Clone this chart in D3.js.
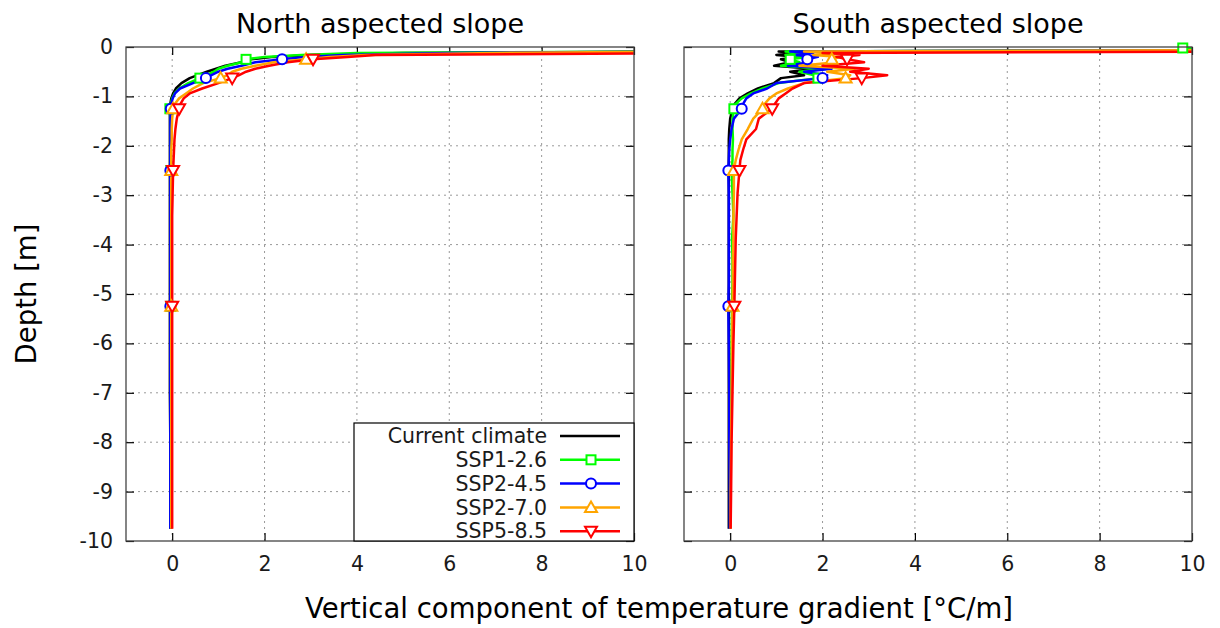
<!DOCTYPE html>
<html><head><meta charset="utf-8">
<script src="https://cdn.jsdelivr.net/npm/d3@7"></script>
<style>body{margin:0;background:#fff}svg{display:block}text{font-family:"DejaVu Sans",sans-serif}</style>
</head><body><svg id="c" width="1220" height="628"></svg>
<script>
// ---- data ----
const depths = [-0.02,-0.06,-0.09,-0.12,-0.16,-0.20,-0.25,-0.31,-0.38,-0.44,-0.50,-0.57,-0.63,-0.73,-0.84,-0.94,-1.04,-1.15,-1.25,-1.45,-1.66,-1.87,-2.08,-2.29,-2.50,-2.96,-3.42,-3.88,-4.33,-4.79,-5.25,-6.0,-7.0,-8.0,-9.0,-9.75];
const seriesNames = ["Current climate","SSP1-2.6","SSP2-4.5","SSP2-7.0","SSP5-8.5"];
const seriesColors = ["#000000","#00ff00","#0000ff","#ffa500","#ff0000"];
const seriesMarkers = ["none","square","circle","triangleUp","triangleDown"];
const panelTitles = ["North aspected slope","South aspected slope"];
const xTicks = [0,2,4,6,8,10];
const yTicks = [0,-1,-2,-3,-4,-5,-6,-7,-8,-9,-10];
const markerEvery = 6;

const northCurrent = [20,15,12,5,3.0,2.2,1.7,1.5,1.15,0.95,0.75,0.55,0.38,0.2,0.08,0.02,-0.02,-0.04,-0.05,-0.05,-0.05,-0.05,-0.05,-0.05,-0.05,-0.05,-0.05,-0.05,-0.05,-0.05,-0.05,-0.05,-0.05,-0.04,-0.04,-0.04];
const northSSP126 = [20,15,12,4,2.8,2.0,1.6,1.5,1.2,1.0,0.9,0.75,0.6,0.35,0.15,0.05,0.0,-0.03,-0.05,-0.04,-0.04,-0.04,-0.04,-0.04,-0.03,-0.03,-0.03,-0.03,-0.03,-0.03,-0.03,-0.03,-0.03,-0.03,-0.03,-0.03];
const northSSP245 = [20,15,12,6,3.7,2.9,2.38,1.8,1.5,1.2,1.0,0.85,0.73,0.45,0.17,0.06,0.01,-0.02,-0.03,-0.04,-0.04,-0.04,-0.04,-0.04,-0.04,-0.04,-0.04,-0.04,-0.04,-0.04,-0.04,-0.04,-0.04,-0.04,-0.04,-0.04];
const northSSP370 = [20,15,12,7,4.2,3.4,2.9,2.2,1.8,1.5,1.3,1.2,1.05,0.67,0.45,0.3,0.15,0.06,0.02,0.0,-0.01,-0.01,-0.02,-0.02,-0.02,-0.02,-0.02,-0.02,-0.02,-0.02,-0.02,-0.02,-0.02,-0.02,-0.02,-0.02];
const northSSP585 = [25,22,18,12,4.4,3.8,3.05,2.5,2.1,1.8,1.6,1.45,1.3,1.0,0.65,0.38,0.25,0.18,0.15,0.1,0.07,0.05,0.04,0.03,0.02,0.01,0.0,0.0,0.0,0.0,0.0,0.0,0.0,0.0,0.0,0.0];

const southCurrent = [12,12,1.05,1.4,1.0,1.5,1.1,1.3,0.95,1.8,1.3,1.6,1.1,0.95,0.6,0.38,0.2,0.1,0.05,0.0,-0.02,-0.03,-0.03,-0.03,-0.03,-0.03,-0.03,-0.03,-0.03,-0.03,-0.03,-0.03,-0.03,-0.03,-0.03,-0.03];
const southSSP126 = [9.8,12,1.2,1.6,1.2,1.7,1.3,1.5,1.1,2.0,1.5,1.8,1.9,1.05,0.7,0.45,0.25,0.12,0.08,0.05,0.05,0.06,0.05,0.05,0.03,0.05,0.07,0.04,0.05,0.05,0.04,0.03,0.02,0.01,0.0,0.0];
const southSSP245 = [12,12,1.3,1.8,1.4,1.9,1.67,1.7,1.25,2.2,1.6,2.1,2.0,1.0,0.8,0.5,0.35,0.28,0.25,0.08,0.03,0.0,-0.02,-0.03,-0.04,-0.03,-0.03,-0.03,-0.03,-0.03,-0.04,-0.03,-0.02,-0.02,-0.01,-0.01];
const southSSP370 = [12,12,1.6,2.3,1.8,2.4,2.2,2.3,1.5,2.7,2.1,2.6,2.5,1.6,1.25,1.0,0.85,0.75,0.7,0.5,0.38,0.25,0.18,0.12,0.08,0.08,0.07,0.07,0.06,0.06,0.05,0.04,0.03,0.02,0.01,0.01];
const southSSP585 = [12,12,12,2.0,2.8,2.3,2.53,2.9,2.0,3.0,2.6,3.4,2.85,1.6,1.35,1.2,1.05,0.97,0.91,0.62,0.56,0.35,0.28,0.22,0.2,0.16,0.14,0.12,0.11,0.1,0.09,0.07,0.05,0.03,0.02,0.01];

const panelSeries = [
  [northCurrent,northSSP126,northSSP245,northSSP370,northSSP585],
  [southCurrent,southSSP126,southSSP245,southSSP370,southSSP585]
];

// ---- layout ----
const svg = d3.select("#c");
const W = 508, H = 494, topY = 47;
const lefts = [126, 684];
const x = d3.scaleLinear().domain([-1,10]).range([0,W]);
const y = d3.scaleLinear().domain([-10,0]).range([H,0]);
const tickFont = 20.5;

function drawMarker(g, type, cx, cy, color){
  if(type==="square"){
    g.append("rect").attr("x",cx-4.5).attr("y",cy-4.5).attr("width",9).attr("height",9)
      .attr("fill","#fff").attr("stroke",color).attr("stroke-width",2);
  } else if(type==="circle"){
    g.append("circle").attr("cx",cx).attr("cy",cy).attr("r",5)
      .attr("fill","#fff").attr("stroke",color).attr("stroke-width",2);
  } else if(type==="triangleUp"){
    g.append("path").attr("d",`M${cx},${cy-6}L${cx+6},${cy+4.5}L${cx-6},${cy+4.5}Z`)
      .attr("fill","#fff").attr("stroke",color).attr("stroke-width",2);
  } else if(type==="triangleDown"){
    g.append("path").attr("d",`M${cx},${cy+6}L${cx+6},${cy-4.5}L${cx-6},${cy-4.5}Z`)
      .attr("fill","#fff").attr("stroke",color).attr("stroke-width",2);
  }
}

panelSeries.forEach((series, p) => {
  const g = svg.append("g").attr("transform",`translate(${lefts[p]},${topY})`);
  const cid = "clip"+p;
  g.append("clipPath").attr("id",cid).append("rect").attr("width",W).attr("height",H);

  // grid
  const grid = g.append("g");
  [0,2,4,6,8].forEach(v => grid.append("line").attr("x1",x(v)).attr("x2",x(v)).attr("y1",0).attr("y2",H)
    .attr("stroke","#999").attr("stroke-width",1).attr("stroke-dasharray","2,4"));
  yTicks.filter(v=>v<0 && v>-10).forEach(v => grid.append("line").attr("x1",0).attr("x2",W).attr("y1",y(v)).attr("y2",y(v))
    .attr("stroke","#999").attr("stroke-width",1).attr("stroke-dasharray","2,4"));

  // axes
  const ax = d3.axisBottom(x).tickValues(xTicks).tickSizeInner(-8).tickSizeOuter(0).tickPadding(15).tickFormat(d=>String(d));
  const axB = g.append("g").attr("transform",`translate(0,${H})`).call(ax);
  const axT = g.append("g").call(d3.axisTop(x).tickValues(xTicks).tickSizeInner(-8).tickSizeOuter(0).tickFormat(""));
  const axL = g.append("g").call(d3.axisLeft(y).tickValues(yTicks).tickSizeInner(-8).tickSizeOuter(0).tickPadding(13)
     .tickFormat(p===0 ? (d=>String(d)) : ""));
  const axR = g.append("g").attr("transform",`translate(${W},0)`).call(d3.axisRight(y).tickValues(yTicks).tickSizeInner(-8).tickSizeOuter(0).tickFormat(""));
  [axB,axT,axL,axR].forEach(a => {
    a.select(".domain").remove();
    a.selectAll("line").attr("stroke","#000").attr("stroke-width",1.2);
    a.selectAll("text").attr("font-size",tickFont).attr("fill","#1a1a1a").attr("font-family","DejaVu Sans");
  });
  axB.selectAll("text").attr("dy","0.71em");

  // lines
  const line = d3.line().x(d=>x(d[0])).y(d=>y(d[1]));
  const lg = g.append("g").attr("clip-path",`url(#${cid})`);
  series.forEach((vals, s) => {
    const pts = vals.map((v,i)=>[v, depths[i]]);
    lg.append("path").attr("d",line(pts)).attr("fill","none")
      .attr("stroke",seriesColors[s]).attr("stroke-width",2.5).attr("stroke-linejoin","round");
  });
  const mg = g.append("g");
  series.forEach((vals, s) => {
    vals.forEach((v,i) => {
      if(i % markerEvery === 0 && v <= 10 && v >= -1) drawMarker(mg, seriesMarkers[s], x(v), y(depths[i]), seriesColors[s]);
    });
  });

  // frame
  g.append("rect").attr("width",W).attr("height",H).attr("fill","none").attr("stroke","#444").attr("stroke-width",1.3);

  // title
  svg.append("text").attr("x",lefts[p]+W/2).attr("y",33).attr("text-anchor","middle")
    .attr("font-size",27).attr("fill","#000").text(panelTitles[p]);

  // legend
  if(p===0){
    const L = g.append("g");
    const lx0 = 228, ly0 = 376, lw = W-228, lh = H-376;
    L.append("rect").attr("x",lx0).attr("y",ly0).attr("width",lw).attr("height",lh)
      .attr("fill","#fff").attr("stroke","#000").attr("stroke-width",1.2);
    seriesNames.forEach((name, s) => {
      const ry = ly0 + 13 + s*23.8;
      L.append("text").attr("x",421).attr("y",ry).attr("dy","0.35em").attr("text-anchor","end")
        .attr("font-size",tickFont).attr("fill","#1a1a1a").text(name);
      L.append("line").attr("x1",434).attr("x2",494).attr("y1",ry).attr("y2",ry)
        .attr("stroke",seriesColors[s]).attr("stroke-width",2.5);
      drawMarker(L, seriesMarkers[s], 465, ry, seriesColors[s]);
    });
  }
});

// axis titles
svg.append("text").attr("x",659).attr("y",618).attr("text-anchor","middle").attr("font-size",27.5)
  .attr("fill","#000").text("Vertical component of temperature gradient [°C/m]");
svg.append("text").attr("transform","translate(36,294) rotate(-90)").attr("text-anchor","middle").attr("font-size",27.5)
  .attr("fill","#000").text("Depth [m]");
</script></body></html>
